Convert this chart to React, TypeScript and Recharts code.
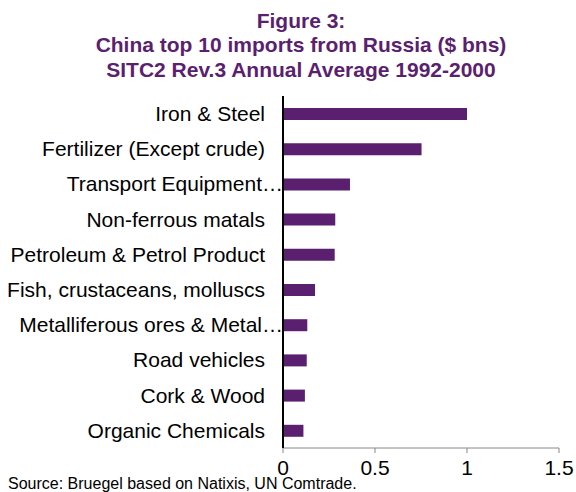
import { Bar, BarChart, XAxis, YAxis } from "recharts";

const categories = [
  "Iron & Steel",
  "Fertilizer (Except crude)",
  "Transport Equipment…",
  "Non-ferrous matals",
  "Petroleum & Petrol Product",
  "Fish, crustaceans, molluscs",
  "Metalliferous ores & Metal…",
  "Road vehicles",
  "Cork & Wood",
  "Organic Chemicals",
];
const imports = [1.0, 0.753, 0.364, 0.284, 0.281, 0.174, 0.132, 0.129, 0.119, 0.111];
const xTicks = [0, 0.5, 1, 1.5];
const boundaryTicks = [0, 1, 2, 3, 4, 5, 6, 7, 8, 9, 10];

const data = categories.map((name, i) => ({ name, value: imports[i] }));

const purple = "#5b1f70";
const font = "'Liberation Sans', Arial, sans-serif";

function CategoryTick(props: any) {
  const { x, y, payload } = props;
  const label: string = payload.value;
  const cut = label.endsWith("…");
  return (
    <text
      x={cut ? x + 18 : x}
      y={y}
      dy="0.355em"
      textAnchor="end"
      fontSize={21}
      fontFamily={font}
      fill="#000"
    >
      {label}
    </text>
  );
}

export default function App() {
  return (
    <div
      style={{
        position: "absolute",
        left: 0,
        top: 0,
        width: 576,
        height: 492,
        background: "#fff",
        fontFamily: font,
      }}
    >
      <div
        style={{
          position: "absolute",
          left: 26,
          top: 8.5,
          width: 550,
          textAlign: "center",
          fontWeight: "bold",
          fontSize: 21,
          lineHeight: "24.5px",
          color: purple,
        }}
      >
        <div>Figure 3:</div>
        <div>China top 10 imports from Russia ($ bns)</div>
        <div>SITC2 Rev.3 Annual Average 1992-2000</div>
      </div>
      <BarChart
        width={576}
        height={492}
        data={data}
        layout="vertical"
        margin={{ top: 96, right: 17, bottom: 14, left: 0 }}
        barSize={12}
      >
        <XAxis
          type="number"
          domain={[0, 1.5]}
          ticks={xTicks}
          height={30}
          axisLine={{ stroke: "#888888" }}
          tickLine={{ stroke: "#888888" }}
          tickSize={5}
          tickMargin={7}
          tick={{ fontSize: 21, fill: "#000", fontFamily: font }}
        />
        <YAxis
          yAxisId="bounds"
          type="number"
          orientation="left"
          domain={[0, 10]}
          allowDataOverflow
          ticks={boundaryTicks}
          width={1}
          tick={false}
          tickSize={7}
          axisLine={{ stroke: "#000", strokeWidth: 2 }}
          tickLine={{ stroke: "#000", strokeWidth: 1.5 }}
        />
        <YAxis
          yAxisId="cats"
          type="category"
          dataKey="name"
          width={282}
          axisLine={false}
          tickLine={false}
          tickSize={6}
          tickMargin={11}
          interval={0}
          tick={<CategoryTick />}
        />
        <Bar yAxisId="cats" dataKey="value" fill={purple} isAnimationActive={false} />
      </BarChart>
      <div
        style={{
          position: "absolute",
          left: 8,
          top: 474.5,
          fontSize: 16,
          lineHeight: "18px",
          color: "#000",
          whiteSpace: "nowrap",
        }}
      >
        Source: Bruegel based on Natixis, UN Comtrade.
      </div>
    </div>
  );
}
